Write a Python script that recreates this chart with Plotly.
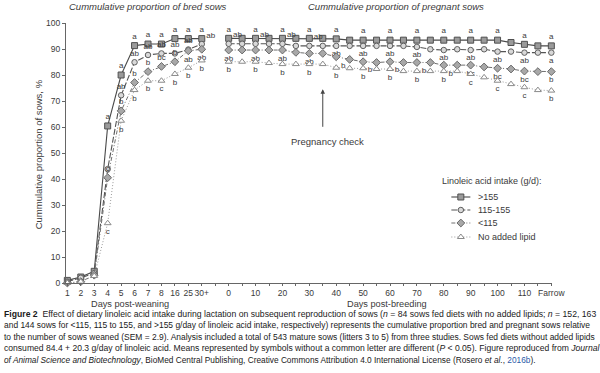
import plotly.graph_objects as go

# ---------------- data ----------------
left_days = ["1", "2", "3", "4", "5", "6", "7", "8", "16", "25", "30+"]
right_days = ["0", "5", "10", "15", "20", "25", "30", "35", "40", "45", "50", "55", "60",
              "65", "70", "75", "80", "85", "90", "95", "100", "105", "110", "115", "Farrow"]

series_names = ["&gt;155", "115-155", "&lt;115", "No added lipid"]
legend_title = "Linoleic acid intake (g/d):"

# cumulative proportion of bred sows (%), days post-weaning
gt155_bred = [1.0, 2.3, 4.5, 60.4, 80.0, 91.3, 91.9, 91.9, 94.0, 94.0, 94.0]
mid_bred = [0.5, 2.0, 3.8, 43.8, 72.2, 84.9, 87.7, 88.3, 88.3, 89.8, 91.9]
lt115_bred = [0.0, 0.5, 3.0, 40.5, 66.2, 77.1, 81.3, 83.3, 85.1, 89.3, 89.9]
nolipid_bred = [0.0, 0.5, 2.7, 23.0, 62.4, 74.2, 77.8, 77.8, 80.4, 82.8, 85.6]

# cumulative proportion of pregnant sows (%), days post-breeding
gt155_preg = [94.1, 94.1, 94.1, 94.1, 94.1, 94.1, 94.1, 94.1, 93.9, 93.4, 93.4, 93.4, 93.4,
              93.4, 93.4, 93.4, 93.4, 93.4, 93.4, 93.4, 93.4, 92.5, 91.8, 91.2, 91.2]
mid_preg = [92.0, 92.0, 92.0, 92.0, 92.0, 91.2, 91.2, 91.2, 91.2, 91.2, 91.2, 91.2, 91.2,
            91.2, 90.8, 89.9, 89.6, 89.9, 89.6, 89.9, 89.0, 89.0, 88.6, 88.6, 88.6]
lt115_preg = [89.6, 89.6, 89.6, 89.6, 89.6, 88.7, 88.3, 88.3, 87.0, 86.0, 85.1, 84.8, 85.1,
              84.8, 84.8, 84.8, 83.8, 83.8, 83.8, 83.1, 82.6, 82.3, 81.5, 81.3, 81.3]
nolipid_preg = [85.1, 85.1, 85.1, 84.6, 84.2, 84.2, 84.2, 84.2, 82.8, 82.6, 82.6, 82.3, 82.3,
                81.5, 81.5, 81.5, 81.5, 81.5, 80.4, 79.1, 77.8, 76.5, 75.3, 74.2, 74.0]

# letters (means without a common letter differ)
gt155_bred_lbl = ["", "", "", "a", "a", "a", "a", "a", "a", "a", "a"]
mid_bred_lbl = ["", "", "", "", "ab", "ab", "ab", "ab", "ab", "ab", "ab"]
lt115_bred_lbl = ["", "", "", "c", "b", "b", "b", "bc", "b", "ab", "ab"]
nolipid_bred_lbl = ["", "", "", "c", "b", "b", "b", "c", "b", "b", "b"]

gt155_preg_lbl = ["a", "", "a", "", "a", "", "a", "", "a", "", "a", "", "a",
                  "", "a", "", "a", "", "a", "", "a", "", "a", "", "a"]
mid_preg_lbl = ["ab", "", "ab", "", "ab", "", "ab", "", "ab", "", "ab", "", "ab",
                "", "ab", "", "ab", "", "ab", "", "ab", "", "ab", "", "a"]
lt115_preg_lbl = ["ab", "", "ab", "", "ab", "", "ab", "", "b", "", "b", "", "b",
                  "", "b", "", "b", "", "bc", "", "bc", "", "bc", "", "b"]
nolipid_preg_lbl = ["b", "", "b", "", "b", "", "b", "", "b", "", "b", "", "b",
                    "", "b", "", "b", "", "c", "", "c", "", "c", "", "b"]

pregnancy_check_day = "35"

# ---------------- geometry helpers ----------------
W, H = 600, 373
ML, MR, MT, MB = 65.66, 48.34, 23, 90
PW, PH = W - ML - MR, H - MT - MB


def px(xp):
    return (xp - ML) / PW


def py(yp):
    return (H - MB - yp) / PH


left_pos = list(range(len(left_days)))
gap_pos = len(left_days)
right_pos = [gap_pos + 1 + i for i in range(len(right_days))]
all_pos = left_pos + [gap_pos] + right_pos

right_tick_labels = [d if (d == "Farrow" or int(d) % 10 == 0) else "" for d in right_days]
tick_text = left_days + [""] + right_tick_labels

FONT = "Liberation Sans, Arial, sans-serif"
TXT = "#3a3a3a"

styles = [
    dict(symbol="square", size=6, fill="#9a9a9a", edge="#505050", line="#4a4a4a", dash="solid", width=1.1),
    dict(symbol="circle", size=5.5, fill="#d8d8d8", edge="#606060", line="#555555", dash="6px,2px", width=1.1),
    dict(symbol="diamond", size=6, fill="#a8a8a8", edge="#6a6a6a", line="#707070", dash="4px,2px,1px,2px", width=1.0),
    dict(symbol="triangle-up", size=6, fill="#ffffff", edge="#8a8a8a", line="#9a9a9a", dash="1px,2px", width=1.0),
]

bred = [gt155_bred, mid_bred, lt115_bred, nolipid_bred]
preg = [gt155_preg, mid_preg, lt115_preg, nolipid_preg]
bred_lbl = [gt155_bred_lbl, mid_bred_lbl, lt115_bred_lbl, nolipid_bred_lbl]
preg_lbl = [gt155_preg_lbl, mid_preg_lbl, lt115_preg_lbl, nolipid_preg_lbl]

n_left = len(left_pos)
fig = go.Figure()
for k in range(4):
    st = styles[k]
    yv = bred[k] + [None] + preg[k]
    txt = bred_lbl[k] + [""] + preg_lbl[k]
    if k == 0:
        tpos = ["top center"] * len(all_pos)
    elif k == 1:
        tpos = ["top center"] * (n_left - 1) + ["top right", "top center"] + \
               [("top right" if i < 8 else "bottom center") for i in range(len(right_days))]
    elif k == 2:
        tpos = ["top center"] * (n_left - 2) + ["bottom center"] * 2 + ["top center"] + \
               [("bottom right" if 8 <= i <= 16 else "bottom center") for i in range(len(right_days))]
    else:
        tpos = ["bottom center"] * len(all_pos)
    fig.add_trace(go.Scatter(
        x=all_pos, y=yv, name=series_names[k], mode="lines+markers+text",
        text=txt, textposition=tpos,
        textfont=dict(size=8, color=TXT, family=FONT),
        line=dict(color=st["line"], dash=st["dash"], width=st["width"]),
        marker=dict(symbol=st["symbol"], size=st["size"], color=st["fill"],
                    line=dict(color=st["edge"], width=1)),
        connectgaps=False, cliponaxis=False, showlegend=False,
    ))

# ---- hand-drawn legend on an invisible pixel-space overlay axis ----
leg_y = [197, 210, 223, 237]
for k in range(4):
    st = styles[k]
    fig.add_trace(go.Scatter(
        x=[451, 470], y=[leg_y[k], leg_y[k]], mode="lines", xaxis="x2", yaxis="y2",
        line=dict(color=st["line"], dash=st["dash"], width=st["width"]),
        showlegend=False, hoverinfo="skip"))
    fig.add_trace(go.Scatter(
        x=[460.5], y=[leg_y[k]], mode="markers", xaxis="x2", yaxis="y2",
        marker=dict(symbol=st["symbol"], size=st["size"], color=st["fill"],
                    line=dict(color=st["edge"], width=1)),
        showlegend=False, hoverinfo="skip", cliponaxis=False))


def ann(x, y, text, size=9.5, xanchor="center", **kw):
    d = dict(x=px(x), y=py(y), xref="paper", yref="paper", text=text, showarrow=False,
             xanchor=xanchor, yanchor="middle", font=dict(size=size, color=TXT, family=FONT))
    d.update(kw)
    return d


pc_x = right_pos[right_days.index(pregnancy_check_day)]

annotations = [
    dict(x=pc_x, y=74.5, ax=pc_x, ay=59.5, xref="x", yref="y", axref="x", ayref="y",
         text="", showarrow=True, arrowhead=2, arrowsize=0.9, arrowwidth=1, arrowcolor="#444"),
    ann(327, 141, "Pregnancy check"),
    ann(148, 6, "<i>Cummulative proportion of bred sows</i>"),
    ann(396, 6, "<i>Cummulative proportion of pregnant sows</i>"),
    ann(130, 303.5, "Days post-weaning", size=9.2),
    ann(387, 303.5, "Days post-breeding", size=9.2),
    ann(38, 154, "Cummulative proportion of sows, %", textangle=-90),
    ann(440, 181, legend_title, size=9, xanchor="left"),
]
for k in range(4):
    annotations.append(ann(476, leg_y[k], series_names[k], size=9, xanchor="left"))

caption_lines = [
    "<b>Figure 2</b>  Effect of dietary linoleic acid intake during lactation on subsequent reproduction of sows (<i>n</i> = 84 sows fed diets with no added lipids; <i>n</i> = 152, 163",
    "and 144 sows for &lt;115, 115 to 155, and &gt;155 g/day of linoleic acid intake, respectively) represents the cumulative proportion bred and pregnant sows relative",
    "to the number of sows weaned (SEM = 2.9). Analysis included a total of 543 mature sows (litters 3 to 5) from three studies. Sows fed diets without added lipids",
    "consumed 84.4 + 20.3 g/day of linoleic acid. Means represented by symbols without a common letter are different (<i>P</i> &lt; 0.05). Figure reproduced from <i>Journal</i>",
    "<i>of Animal Science and Biotechnology</i>, BioMed Central Publishing, Creative Commons Attribution 4.0 International License (Rosero <i>et al.</i>, <span style='color:#2b5aa8'>2016b</span>).",
]
cap_y = [313.5, 325.0, 336.7, 348.3, 360.0]
cap_size = [8.67, 8.45, 8.45, 8.58, 8.3]
for line, yy, fs in zip(caption_lines, cap_y, cap_size):
    a = ann(2, yy, line, size=fs, xanchor="left")
    a["font"]["color"] = "#1a1a1a"
    annotations.append(a)

fig.update_layout(
    width=W, height=H,
    margin=dict(l=ML, r=MR, t=MT, b=MB, autoexpand=False),
    paper_bgcolor="white", plot_bgcolor="white",
    font=dict(family=FONT, color=TXT),
    showlegend=False,
    xaxis=dict(range=[-0.1, 36.05], tickmode="array", tickvals=all_pos, ticktext=tick_text,
               ticks="outside", ticklen=2, tickcolor="#666", showline=True, linecolor="#666",
               linewidth=1, showgrid=False, zeroline=False, tickangle=0,
               tickfont=dict(size=8.5, color=TXT, family=FONT)),
    yaxis=dict(range=[0, 100], tickmode="linear", tick0=0, dtick=10,
               ticks="outside", ticklen=3, tickcolor="#666", showline=True, linecolor="#666",
               linewidth=1, showgrid=False, zeroline=False,
               tickfont=dict(size=8.5, color=TXT, family=FONT)),
    xaxis2=dict(overlaying="x", anchor="y2", range=[ML, W - MR], visible=False,
                showgrid=False, zeroline=False),
    yaxis2=dict(overlaying="y", anchor="x2", range=[H - MB, MT], visible=False,
                showgrid=False, zeroline=False),
    annotations=annotations,
)

fig.write_html("out.html")
